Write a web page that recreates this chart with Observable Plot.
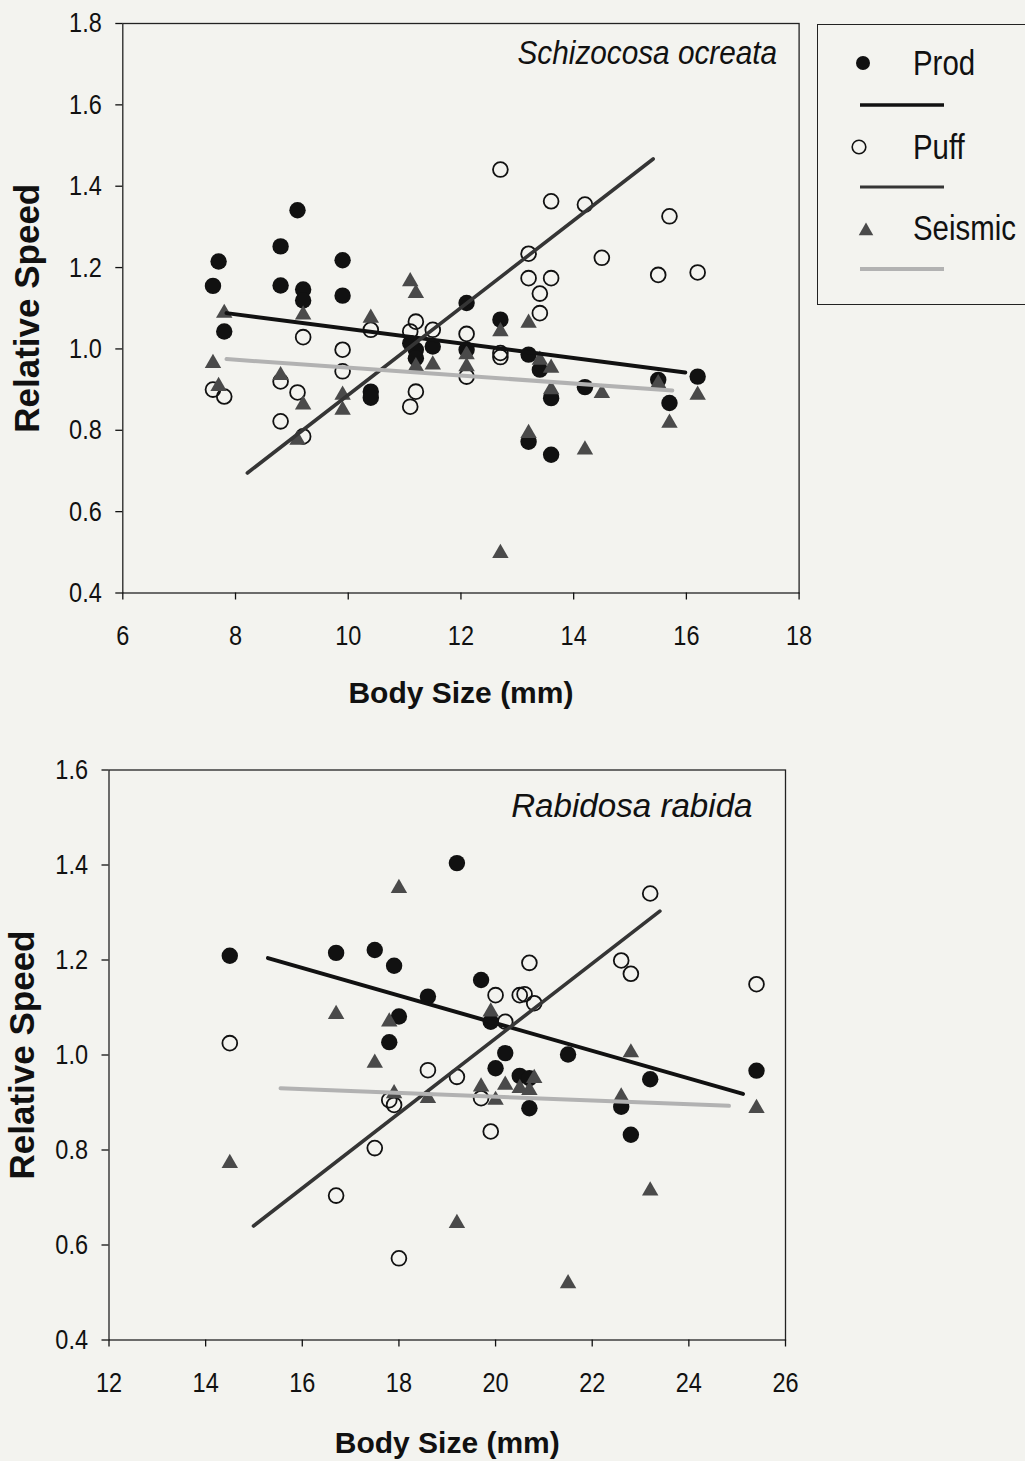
<!DOCTYPE html>
<html>
<head>
<meta charset="utf-8">
<script src="https://cdn.jsdelivr.net/npm/d3@7"></script>
<script src="https://cdn.jsdelivr.net/npm/@observablehq/plot@0.6"></script>
<style>
  html, body { margin: 0; padding: 0; background: #f3f3ef; }
  #wrap { position: relative; width: 1025px; height: 1461px; overflow: hidden; background: #f3f3ef; }
  .chart { position: absolute; left: 0; }
  #legend { position: absolute; left: 817px; top: 24px; width: 230px; height: 281px; border: 1.5px solid #222; box-sizing: border-box; }
  #legend svg { position: absolute; left: 0; top: 0; }
  .lg { position: absolute; left: 95px; font-family: "Liberation Sans", Arial, sans-serif; font-size: 35px; color: #111; line-height: 1; transform-origin: 0 50%; transform: translateY(-50%) scaleX(0.84); white-space: nowrap; }
</style>
</head>
<body>
<div id="wrap">
  <div id="top" class="chart" style="top:0px"></div>
  <div id="bot" class="chart" style="top:740px"></div>
  <div id="legend"></div>
</div>
<script>
// ---------- Data ----------
const seriesNames = ["Prod", "Puff", "Seismic"];
const speciesTop = "Schizocosa ocreata";
const speciesBot = "Rabidosa rabida";
const xLabel = "Body Size (mm)";
const yLabel = "Relative Speed";

const xTicksTop = [6, 8, 10, 12, 14, 16, 18];
const yTicksTop = [0.4, 0.6, 0.8, 1.0, 1.2, 1.4, 1.6, 1.8];
const xTicksBot = [12, 14, 16, 18, 20, 22, 24, 26];
const yTicksBot = [0.4, 0.6, 0.8, 1.0, 1.2, 1.4, 1.6];

// Schizocosa ocreata: [body size, relative speed]
const schizoProd = [
  [7.6, 1.155], [7.7, 1.215], [7.8, 1.043], [8.8, 1.252], [8.8, 1.156], [9.1, 1.341],
  [9.2, 1.146], [9.2, 1.119], [9.9, 1.218], [9.9, 1.131], [10.4, 0.895], [10.4, 0.880],
  [11.1, 1.014], [11.2, 0.998], [11.2, 0.977], [11.5, 1.006], [12.1, 1.113], [12.1, 0.998],
  [12.7, 1.072], [13.2, 0.986], [13.4, 0.949], [13.2, 0.772], [13.6, 0.879], [13.6, 0.740],
  [14.2, 0.906], [15.5, 0.924], [15.7, 0.867], [16.2, 0.932]
];
const schizoPuff = [
  [7.6, 0.900], [7.8, 0.883], [8.8, 0.920], [8.8, 0.822], [9.1, 0.893], [9.2, 1.029],
  [9.2, 0.785], [9.9, 0.998], [9.9, 0.945], [10.4, 1.047], [11.1, 1.043], [11.2, 1.067],
  [11.5, 1.047], [11.2, 0.895], [11.1, 0.858], [12.1, 1.037], [12.1, 0.932], [12.7, 0.990],
  [12.7, 0.980], [12.7, 1.441], [13.2, 1.234], [13.2, 1.174], [13.4, 1.136], [13.4, 1.088],
  [13.6, 1.363], [13.6, 1.174], [14.2, 1.355], [14.5, 1.224], [15.5, 1.182], [15.7, 1.326],
  [16.2, 1.188]
];
const schizoSeismic = [
  [7.6, 0.965], [7.7, 0.908], [7.8, 1.088], [8.8, 0.935], [9.1, 0.776], [9.2, 1.084],
  [9.2, 0.863], [9.9, 0.887], [9.9, 0.850], [10.4, 1.076], [11.1, 1.166], [11.2, 1.137],
  [11.2, 0.957], [11.5, 0.961], [12.1, 0.986], [12.1, 0.957], [12.7, 1.043], [12.7, 0.498],
  [13.2, 1.064], [13.2, 0.793], [13.4, 0.973], [13.6, 0.953], [13.6, 0.900], [14.2, 0.752],
  [14.5, 0.891], [15.5, 0.915], [15.7, 0.818], [16.2, 0.887]
];
const schizoProdFit = [[7.84, 1.088], [15.98, 0.942]];
const schizoPuffFit = [[8.21, 0.695], [15.41, 1.467]];
const schizoSeismicFit = [[7.84, 0.975], [15.75, 0.898]];

// Rabidosa rabida
const rabidProd = [
  [14.5, 1.209], [16.7, 1.215], [17.5, 1.221], [17.9, 1.188], [18.6, 1.123], [18.0, 1.081],
  [17.8, 1.027], [19.2, 1.404], [19.7, 1.158], [19.9, 1.070], [20.2, 1.004], [20.0, 0.972],
  [20.5, 0.956], [20.7, 0.951], [20.7, 0.888], [21.5, 1.001], [22.6, 0.891], [22.8, 0.832],
  [23.2, 0.949], [25.4, 0.967]
];
const rabidPuff = [
  [14.5, 1.025], [16.7, 0.704], [17.5, 0.804], [17.8, 0.905], [17.9, 0.895], [18.0, 0.572],
  [18.6, 0.968], [19.2, 0.954], [19.7, 0.909], [19.9, 0.839], [20.0, 1.126], [20.2, 1.070],
  [20.5, 1.126], [20.6, 1.128], [20.7, 1.194], [20.8, 1.109], [22.6, 1.199], [22.8, 1.171],
  [23.2, 1.340], [25.4, 1.149]
];
const rabidSeismic = [
  [14.5, 0.772], [16.7, 1.086], [17.5, 0.983], [17.8, 1.070], [17.9, 0.919], [18.0, 1.351],
  [18.6, 0.909], [19.2, 0.646], [19.7, 0.933], [19.9, 1.091], [20.0, 0.905], [20.2, 0.937],
  [20.5, 0.930], [20.7, 0.926], [20.8, 0.951], [21.5, 0.519], [22.6, 0.912], [22.8, 1.005],
  [23.2, 0.714], [25.4, 0.888]
];
const rabidProdFit = [[15.29, 1.204], [25.12, 0.918]];
const rabidPuffFit = [[14.99, 0.640], [23.40, 1.303]];
const rabidSeismicFit = [[15.55, 0.930], [24.83, 0.893]];

// ---------- Styles ----------
const SANS = "'Liberation Sans', Arial, sans-serif";
const colProd = "#111111";
const colPuffLine = "#353535";
const colSeisFill = "#4a4a4a";
const colSeisLine = "#b2b2b2";

// horizontally condense selected text elements around their anchor (mimics a narrow face)
function condense(svg, selector, s) {
  svg.querySelectorAll(selector).forEach(t => {
    const tr = t.getAttribute("transform") || "";
    const xa = t.getAttribute("x");
    if (xa !== null && isFinite(+xa) && +xa !== 0) {
      t.setAttribute("x", 0);
      t.setAttribute("transform", `${tr} translate(${+xa},0) scale(${s},1)`);
    } else {
      t.setAttribute("transform", `${tr} scale(${s},1)`);
    }
  });
}

function panel(o) {
  const P = a => a.map(([x, y]) => ({x, y}));
  const svg = Plot.plot({
    width: o.width, height: o.height,
    marginLeft: o.ml, marginRight: o.mr, marginTop: o.mt, marginBottom: o.mb,
    x: {domain: o.xDomain},
    y: {domain: o.yDomain},
    style: {background: "transparent", color: "#111", overflow: "visible"},
    marks: [
      Plot.frame({stroke: "#222", strokeWidth: 1.3}),
      Plot.axisX({ticks: o.xTicks, tickSize: 7, tickPadding: 25, tickFormat: d => String(d),
        label: null, fontSize: 28, fontFamily: SANS, strokeWidth: 1.3, className: "tickx"}),
      Plot.axisY({ticks: o.yTicks, tickSize: 7, tickPadding: 14, tickFormat: d3.format(".1f"),
        label: null, fontSize: 28, fontFamily: SANS, strokeWidth: 1.3, className: "ticky"}),
      Plot.dot(P(o.prod), {x: "x", y: "y", r: 8.2, fill: colProd, stroke: null}),
      Plot.dot(P(o.puff), {x: "x", y: "y", r: 7.4, fill: "none", stroke: "#111", strokeWidth: 1.8}),
      Plot.dot(P(o.seis), {x: "x", y: "y", symbol: "triangle", r: 6.1, fill: colSeisFill, stroke: null}),
      Plot.line(P(o.prodFit), {x: "x", y: "y", stroke: colProd, strokeWidth: 4}),
      Plot.line(P(o.puffFit), {x: "x", y: "y", stroke: colPuffLine, strokeWidth: 3.6}),
      Plot.line(P(o.seisFit), {x: "x", y: "y", stroke: colSeisLine, strokeWidth: 4}),
      Plot.text([o.species], {frameAnchor: "top-right", textAnchor: "end", lineAnchor: "middle",
        dx: o.spDx, dy: o.spDy, fontSize: 34, fontStyle: "italic", fontFamily: SANS, fill: "#111",
        className: "species"}),
      Plot.text([xLabel], {frameAnchor: "bottom", textAnchor: "middle", lineAnchor: "middle", dy: o.xlDy,
        fontSize: 30, fontWeight: "bold", fontFamily: SANS, fill: "#111"}),
      Plot.text([yLabel], {frameAnchor: "left", textAnchor: "middle", lineAnchor: "middle", rotate: -90, dx: o.ylDx,
        fontSize: 35, fontWeight: "bold", fontFamily: SANS, fill: "#111"})
    ]
  });
  condense(svg, ".tickx text, .ticky text", 0.84);
  condense(svg, ".species text", o.spScale);
  return svg;
}

document.getElementById("top").append(panel({
  width: 820, height: 730, ml: 122.3, mr: 21.4, mt: 23, mb: 137.5,
  xDomain: [6, 18], yDomain: [0.4, 1.8], xTicks: xTicksTop, yTicks: yTicksTop,
  prod: schizoProd, puff: schizoPuff, seis: schizoSeismic,
  prodFit: schizoProdFit, puffFit: schizoPuffFit, seisFit: schizoSeismicFit,
  species: speciesTop, spDx: -22, spDy: 30, spScale: 0.875, xlDy: 100.5, ylDx: -95
}));

document.getElementById("bot").append(panel({
  width: 820, height: 721, ml: 108.5, mr: 35, mt: 29.5, mb: 121.5,
  xDomain: [12, 26], yDomain: [0.4, 1.6], xTicks: xTicksBot, yTicks: yTicksBot,
  prod: rabidProd, puff: rabidPuff, seis: rabidSeismic,
  prodFit: rabidProdFit, puffFit: rabidPuffFit, seisFit: rabidSeismicFit,
  species: speciesBot, spDx: -33, spDy: 36.5, spScale: 0.975, xlDy: 103.5, ylDx: -86.5
}));

// ---------- Legend (HTML + small SVG for keys) ----------
const legend = document.getElementById("legend");
const ns = "http://www.w3.org/2000/svg";
const ksvg = document.createElementNS(ns, "svg");
ksvg.setAttribute("width", 230); ksvg.setAttribute("height", 281);
const keyY = [38, 122, 206];
const lineY = [80, 162, 244];
const lineCols = [colProd, colPuffLine, colSeisLine];
const lineW = [3.5, 3.2, 4];
function el(tag, attrs) { const e = document.createElementNS(ns, tag); for (const k in attrs) e.setAttribute(k, attrs[k]); ksvg.append(e); return e; }
el("circle", {cx: 45, cy: keyY[0], r: 7, fill: colProd});
el("circle", {cx: 41, cy: keyY[1], r: 6.8, fill: "none", stroke: "#111", "stroke-width": 1.6});
const tri = d3.symbol(d3.symbolTriangle, Math.PI * 5.4 * 5.4)();
el("path", {d: tri, transform: `translate(48,${keyY[2]})`, fill: colSeisFill});
seriesNames.forEach((n, i) => {
  el("line", {x1: 42, x2: 126, y1: lineY[i], y2: lineY[i], stroke: lineCols[i], "stroke-width": lineW[i]});
  const d = document.createElement("div");
  d.className = "lg"; d.textContent = n; d.style.top = (keyY[i] - (i === 2 ? 3 : 0) - 1) + "px";
  legend.append(d);
});
legend.append(ksvg);
</script>
</body>
</html>
